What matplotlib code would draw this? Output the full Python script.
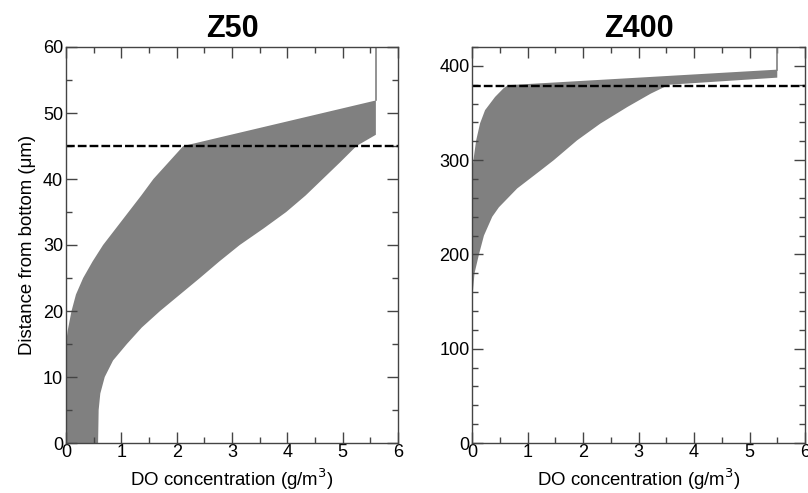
import numpy as np
import matplotlib.pyplot as plt
from matplotlib.ticker import MultipleLocator

plt.rcParams['font.family'] = ['Liberation Sans', 'DejaVu Sans']

# Z50 : band of DO profiles (x = DO g/m3, y = distance um)
z50_low_y = [0, 15, 17, 20, 22.5, 25, 27.5, 30, 32.5, 35, 37.5, 40, 42.5, 45, 51.9]
z50_low_x = [0, 0, 0.03, 0.1, 0.18, 0.31, 0.48, 0.67, 0.9, 1.13, 1.36, 1.58, 1.85, 2.12, 5.6]
z50_high_y = [46.7, 45, 42.5, 40, 37.5, 35, 32.5, 30, 27.5, 25, 22.5, 20, 17.5, 15, 12.5, 10, 7.5, 5, 0]
z50_high_x = [5.6, 5.25, 4.95, 4.64, 4.33, 3.98, 3.57, 3.14, 2.77, 2.42, 2.06, 1.7, 1.37, 1.1, 0.85, 0.7, 0.62, 0.59, 0.58]
z50_interface = 45
z50_surface_x = 5.6

# Z400
z400_low_y = [140, 290, 300, 321, 339, 353, 367, 376, 379.5, 396]
z400_low_x = [0, 0, 0.02, 0.07, 0.14, 0.23, 0.41, 0.56, 0.64, 5.5]
z400_high_y = [387.5, 380, 370.6, 356.5, 338.8, 321, 300, 289, 270, 250, 240, 220, 200, 180, 160, 140]
z400_high_x = [5.5, 3.55, 3.22, 2.8, 2.31, 1.89, 1.47, 1.23, 0.81, 0.48, 0.36, 0.21, 0.12, 0.04, 0.01, 0]
z400_interface = 379
z400_surface_x = 5.5

fig = plt.figure(figsize=(8.08, 4.93), dpi=100)
W, H = 808, 493
ax1 = fig.add_axes([66 / W, (H - 443) / H, 332 / W, 396 / H])
ax2 = fig.add_axes([472.3 / W, (H - 443) / H, 332.7 / W, 396 / H])

gray = '#808080'
spine_c = '#444444'


def draw(ax, ly, lx, hy, hx, surf_x, top_y, ymax, interface, title, ymaj, ymin):
    xs = list(lx) + list(hx)
    ys = list(ly) + list(hy)
    ax.fill(xs, ys, color=gray, lw=0)
    ax.plot([surf_x, surf_x], [top_y, ymax], color=gray, lw=1.2)
    ax.axhline(interface, color='black', lw=1.7, dashes=(3.7, 1.3))
    ax.set_xlim(0, 6)
    ax.set_ylim(0, ymax)
    ax.xaxis.set_major_locator(MultipleLocator(1))
    ax.xaxis.set_minor_locator(MultipleLocator(0.5))
    ax.yaxis.set_major_locator(MultipleLocator(ymaj))
    ax.yaxis.set_minor_locator(MultipleLocator(ymin))
    ax.tick_params(which='both', direction='in', top=True, right=True,
                   color=spine_c, width=1, labelsize=13)
    ax.tick_params(which='major', length=8)
    ax.tick_params(which='minor', length=4.5)
    ax.tick_params(axis='x', pad=1)
    ax.tick_params(axis='y', pad=2)
    for s in ax.spines.values():
        s.set_color(spine_c)
        s.set_linewidth(1)
    ax.set_title(title, fontsize=22, fontweight='bold', pad=7)
    ax.set_xlabel('DO concentration (g/m$^3$)', fontsize=13.4, labelpad=3.5)


draw(ax1, z50_low_y, z50_low_x, z50_high_y, z50_high_x, z50_surface_x,
     z50_low_y[-1], 60, z50_interface, 'Z50', 10, 5)
draw(ax2, z400_low_y, z400_low_x, z400_high_y, z400_high_x, z400_surface_x,
     z400_low_y[-1], 420, z400_interface, 'Z400', 100, 20)
ax1.set_ylabel('Distance from bottom (\u03bcm)', fontsize=13.4, labelpad=5)

fig.savefig('out.png', dpi=100)
